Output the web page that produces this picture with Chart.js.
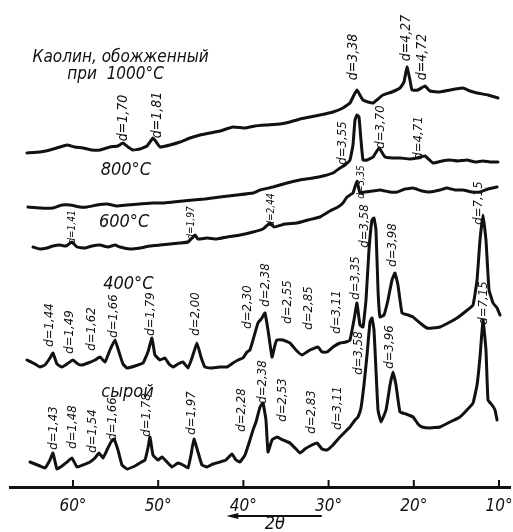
<!DOCTYPE html>
<html>
<head>
<meta charset="utf-8">
<script src="https://cdn.jsdelivr.net/npm/chart.js@4.4.1/dist/chart.umd.min.js"></script>
<style>
  html, body { margin: 0; padding: 0; background: #fff; }
  canvas { display: block; }
</style>
</head>
<body>
<canvas id="xrdChart" width="513" height="532"></canvas>
<script>
// 2θ positions (deg) and relative intensity of each pattern
const rawTheta = [65.05, 63.87, 63.29, 62.70, 62.35, 61.88, 61.29, 60.70, 60.12, 59.53, 58.83, 58.00, 57.42, 56.95, 56.48, 56.01, 55.54, 55.19, 54.72, 54.25, 53.66, 52.72, 52.14, 51.55, 51.20, 50.96, 50.61, 50.02, 49.55, 48.97, 48.38, 47.68, 47.09, 46.50, 46.15, 45.80, 45.33, 44.86, 44.27, 43.57, 42.75, 42.04, 41.34, 40.87, 40.40, 39.81, 39.23, 38.87, 38.52, 38.05, 37.70, 37.35, 37.11, 36.64, 36.06, 35.35, 34.53, 33.94, 33.36, 32.77, 32.18, 31.36, 30.77, 30.19, 29.48, 28.66, 28.08, 27.49, 26.90, 26.55, 26.20, 25.85, 25.49, 25.14, 24.91, 24.67, 24.44, 24.20, 23.85, 23.26, 22.79, 22.44, 22.09, 21.62, 20.92, 20.09, 19.51, 19.04, 18.10, 16.92, 15.75, 14.58, 13.76, 13.05, 12.58, 12.23, 11.88, 11.53, 11.29, 10.82, 10.47, 10.23];
const rawI = [5, 1, -1, 7, 14, -2, 1, 5, 9, 0, 2, 5, 9, 14, 9, 17, 25, 28, 17, 2, -2, 1, 4, 7, 19, 30, 12, 7, 10, 5, 0, 4, 2, -1, 12, 28, 15, 2, 0, 3, 5, 7, 13, 7, 5, 12, 27, 37, 45, 60, 64, 47, 15, 27, 30, 27, 24, 19, 14, 18, 21, 24, 18, 17, 22, 30, 35, 40, 47, 50, 59, 82, 112, 145, 149, 137, 97, 57, 45, 57, 82, 95, 82, 55, 53, 50, 43, 40, 39, 40, 45, 50, 57, 64, 82, 110, 147, 117, 67, 62, 57, 47];

const t400Theta = [65.40, 64.46, 63.87, 63.29, 62.70, 62.35, 61.88, 61.29, 60.70, 60.00, 59.41, 58.94, 58.24, 57.42, 56.83, 56.24, 55.66, 55.07, 54.60, 54.13, 53.66, 52.72, 51.78, 51.20, 50.73, 50.38, 49.79, 49.20, 48.73, 48.26, 47.68, 47.09, 46.50, 46.03, 45.45, 44.98, 44.51, 43.92, 42.75, 41.92, 41.22, 40.63, 40.05, 39.58, 39.23, 38.87, 38.29, 37.82, 37.47, 37.11, 36.64, 36.29, 36.06, 35.35, 34.53, 33.83, 33.12, 32.18, 31.24, 30.77, 30.19, 29.48, 28.66, 27.96, 27.49, 27.02, 26.67, 26.32, 25.96, 25.61, 25.26, 24.91, 24.67, 24.44, 24.20, 23.97, 23.50, 23.03, 22.56, 22.21, 21.86, 21.38, 20.68, 20.09, 19.27, 18.45, 17.75, 16.92, 15.75, 14.93, 14.00, 13.05, 12.58, 12.23, 11.88, 11.53, 11.17, 10.70, 10.23, 9.88];
const t400I = [7, 3, 0, 2, 9, 14, 3, 0, 3, 7, 3, 2, 4, 7, 10, 5, 17, 27, 15, 3, -1, 1, 4, 15, 29, 12, 7, 9, 3, 0, 3, 5, -1, 9, 24, 10, 0, -1, 0, 0, 4, 7, 9, 15, 17, 27, 44, 49, 54, 37, 10, 22, 27, 27, 24, 17, 12, 17, 20, 15, 15, 20, 24, 25, 27, 47, 64, 42, 40, 67, 117, 147, 149, 137, 77, 50, 52, 67, 87, 94, 82, 54, 52, 50, 44, 39, 39, 40, 45, 49, 55, 62, 87, 127, 152, 127, 77, 64, 59, 52];

const t600Theta = [64.69, 63.87, 63.05, 62.35, 61.53, 60.82, 60.12, 59.53, 58.59, 57.77, 56.83, 55.89, 55.07, 54.48, 53.31, 52.14, 50.96, 49.79, 48.61, 47.44, 46.50, 46.03, 45.68, 45.33, 44.27, 43.10, 41.92, 40.40, 38.87, 37.70, 36.88, 36.41, 35.12, 33.71, 32.42, 31.01, 29.84, 28.90, 28.31, 27.84, 27.14, 26.67, 26.32, 25.73, 24.79, 23.97, 22.79, 21.97, 21.03, 20.09, 19.04, 18.10, 16.92, 16.10, 15.17, 14.23, 13.17, 12.23, 11.29, 10.23];
const t600I = [0, -2, -1, 1, 2, 1, 5, 0, -1, 1, 2, 0, 2, 0, -2, -1, 1, 2, 3, 4, 5, 9, 12, 8, 9, 8, 10, 12, 15, 18, 24, 20, 23, 24, 27, 30, 36, 40, 44, 50, 54, 66, 54, 55, 56, 57, 55, 55, 58, 59, 56, 55, 57, 59, 57, 57, 55, 55, 58, 60];

const t800Theta = [65.28, 63.87, 62.35, 61.29, 60.35, 59.18, 58.36, 57.18, 56.01, 54.84, 53.66, 52.14, 50.61, 49.44, 48.26, 47.09, 45.92, 44.51, 42.75, 40.75, 38.87, 38.05, 36.53, 34.88, 33.36, 31.83, 30.66, 29.48, 28.66, 28.08, 27.49, 27.14, 26.90, 26.67, 26.43, 26.20, 25.96, 25.49, 24.79, 24.08, 23.38, 22.44, 21.62, 20.45, 19.62, 18.69, 17.75, 16.69, 15.75, 14.81, 13.76, 12.82, 11.88, 11.06, 10.12];
const t800I = [0, -1, -1, 2, 2, 0, 0, 2, 3, 1, 2, 3, 4, 4, 5, 6, 7, 8, 10, 12, 14, 17, 20, 24, 27, 29, 31, 34, 39, 42, 47, 62, 87, 92, 90, 67, 47, 47, 50, 59, 50, 49, 49, 48, 49, 51, 44, 46, 47, 46, 47, 45, 46, 45, 45];

const t1000Theta = [65.40, 63.87, 62.70, 61.53, 60.70, 59.77, 58.83, 57.77, 56.83, 55.66, 54.72, 54.13, 53.54, 52.96, 52.14, 51.32, 50.61, 50.14, 49.79, 48.61, 47.44, 46.27, 45.09, 43.92, 42.75, 41.22, 39.81, 38.64, 37.23, 35.70, 34.53, 33.36, 32.18, 31.01, 29.48, 28.31, 27.49, 27.02, 26.67, 26.32, 25.96, 25.38, 24.79, 24.20, 23.62, 22.56, 21.62, 21.15, 20.80, 20.45, 20.21, 19.51, 18.69, 18.10, 16.92, 15.75, 14.23, 13.41, 12.58, 11.29, 10.12];
const t1000I = [0, 1, 3, 6, 8, 6, 5, 3, 3, 6, 7, 10, 6, 3, 4, 7, 15, 10, 6, 8, 11, 15, 18, 20, 22, 26, 25, 27, 28, 29, 31, 34, 36, 38, 41, 45, 50, 58, 63, 58, 53, 51, 50, 54, 58, 61, 65, 71, 86, 73, 63, 63, 67, 62, 61, 63, 65, 62, 60, 58, 55];

// vertical shift of each pattern in the stack
const traceOffsets = [20, 120, 240, 280, 334];

const tickDegrees = [10, 20, 30, 40, 50, 60];

// peak labels: [text, 2θ, height on the stacked plot]
const rawPeaks = [['d=1,43', 62.23, 59], ['d=1,48', 60.00, 60], ['d=1,54', 57.65, 56], ['d=1,66', 55.31, 68], ['d=1,78', 51.31, 72], ['d=1,97', 46.03, 74], ['d=2,28', 40.17, 77], ['d=2,38', 37.70, 105], ['d=2,53', 35.35, 87], ['d=2,83', 31.95, 75], ['d=3,11', 28.90, 79], ['d=3,58', 26.43, 134], ['d=3,96', 22.79, 140], ['d=7,15', 11.76, 184]];
const peaks400 = [['d=1,44', 62.70, 162], ['d=1,49', 60.35, 155], ['d=1,62', 57.77, 158], ['d=1,66', 55.19, 171], ['d=1,79', 50.84, 173], ['d=2,00', 45.56, 173], ['d=2,30', 39.46, 180], ['d=2,38', 37.35, 202], ['d=2,55', 34.77, 185], ['d=2,85', 32.30, 179], ['d=3,11', 29.01, 175], ['d=3,35', 26.79, 209], ['d=3,58', 25.73, 261], ['d=3,98', 22.44, 242], ['d=7,15', 12.35, 284]];
const peaks600 = [['d=1,41', 60.12, 260], ['d=1,97', 46.15, 264], ['d=2,44', 36.76, 277], ['d=3,35', 26.20, 305]];
const peaks800 = [['d=3,55', 28.31, 344], ['d=3,70', 23.85, 360], ['d=4,71', 19.39, 349]];
const peaks1000 = [['d=1,70', 54.13, 369], ['d=1,81', 50.14, 372], ['d=3,38', 27.14, 430], ['d=4,27', 20.92, 449], ['d=4,72', 19.04, 430]];

// curve captions: [text, 2θ at centre, height]
const captions = [
    ['Каолин, обожженный', 54.4, 429],
    ['при  1000°C', 55.0, 412],
    ['800°C', 53.8, 317],
    ['600°C', 54.0, 265],
    ['400°C', 53.5, 203],
    ['сырой', 53.6, 95]
];

const narrow = "'DejaVu Sans Condensed', 'Liberation Sans Narrow', 'DejaVu Sans', sans-serif";

const series = [
    [rawTheta, rawI],
    [t400Theta, t400I],
    [t600Theta, t600I],
    [t800Theta, t800I],
    [t1000Theta, t1000I]
];

const labelSets = [
    { list: rawPeaks, size: 13 },
    { list: peaks400, size: 13 },
    { list: peaks600, size: 10 },
    { list: peaks800, size: 13 },
    { list: peaks1000, size: 14 }
];

const annotate = {
    id: 'annotate',
    afterDatasetsDraw(chart) {
        const { ctx, scales: { x, y }, chartArea } = chart;
        ctx.save();
        ctx.fillStyle = '#111';

        // rotated d-spacing labels
        labelSets.forEach(set => {
            ctx.font = 'italic ' + set.size + 'px ' + narrow;
            ctx.textAlign = 'center';
            ctx.textBaseline = 'middle';
            set.list.forEach(([text, t, h]) => {
                ctx.save();
                ctx.translate(x.getPixelForValue(t), y.getPixelForValue(h));
                ctx.rotate(-Math.PI / 2);
                ctx.fillText(text, 0, 0);
                ctx.restore();
            });
        });

        // curve captions
        captions.forEach(([text, t, h], i) => {
            ctx.font = 'italic ' + (i < 2 ? 17 : 18) + 'px ' + narrow;
            ctx.textAlign = 'center';
            ctx.textBaseline = 'middle';
            ctx.fillText(text, x.getPixelForValue(t), y.getPixelForValue(h));
        });

        // small ticks standing on the axis
        ctx.strokeStyle = '#111';
        ctx.lineWidth = 2;
        tickDegrees.forEach(v => {
            const px = x.getPixelForValue(v);
            ctx.beginPath();
            ctx.moveTo(px, chartArea.bottom - 7);
            ctx.lineTo(px, chartArea.bottom);
            ctx.stroke();
        });

        // direction arrow with 2θ
        const ay = chartArea.bottom + 29;
        const a0 = x.getPixelForValue(30.8);
        const a1 = x.getPixelForValue(42.0);
        ctx.lineWidth = 2;
        ctx.beginPath();
        ctx.moveTo(a0, ay);
        ctx.lineTo(a1 + 6, ay);
        ctx.stroke();
        ctx.beginPath();
        ctx.moveTo(a1, ay);
        ctx.lineTo(a1 + 12, ay - 3);
        ctx.lineTo(a1 + 12, ay + 3);
        ctx.closePath();
        ctx.fill();
        ctx.font = 'italic 18px ' + narrow;
        ctx.textAlign = 'center';
        ctx.textBaseline = 'middle';
        ctx.fillText('2θ', x.getPixelForValue(36.3), ay + 8);
        ctx.restore();
    }
};

new Chart(document.getElementById('xrdChart'), {
    type: 'line',
    data: {
        datasets: series.map(([theta, vals], i) => ({
            data: theta.map((t, k) => ({ x: t, y: vals[k] + traceOffsets[i] })),
            borderColor: '#111',
            borderWidth: 3,
            tension: 0.1,
            borderJoinStyle: 'round',
            borderCapStyle: 'round',
            pointRadius: 0,
            fill: false
        }))
    },
    options: {
        responsive: false,
        animation: false,
        devicePixelRatio: 1,
        layout: { padding: { left: 10, right: 3, top: 0, bottom: 0 } },
        scales: {
            x: {
                type: 'linear',
                reverse: true,
                min: 8.71,
                max: 67.39,
                afterFit: s => { s.height = 45; },
                afterBuildTicks: s => { s.ticks = tickDegrees.map(v => ({ value: v })); },
                grid: { display: false, drawTicks: false },
                border: { display: true, color: '#111', width: 3 },
                ticks: {
                    color: '#111',
                    padding: 9,
                    maxRotation: 0,
                    font: { family: narrow, size: 17, style: 'italic' },
                    callback: v => v + '°'
                }
            },
            y: {
                display: false,
                min: 0,
                max: 487
            }
        },
        plugins: {
            legend: { display: false },
            tooltip: { enabled: false }
        }
    },
    plugins: [annotate]
});
</script>
</body>
</html>
